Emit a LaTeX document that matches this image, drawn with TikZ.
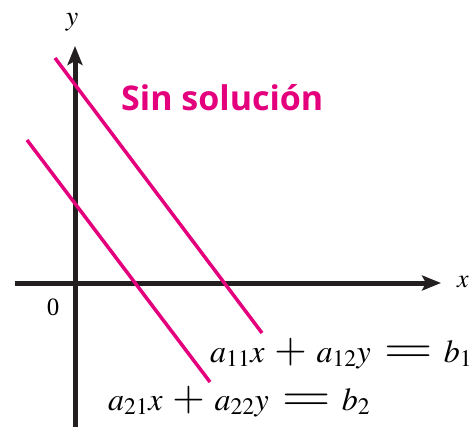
\documentclass[tikz,border=0pt]{standalone}
\usepackage{mathptmx}
\usepackage{fontspec}
\setmainfont{Liberation Serif}
\newfontfamily\labelsans{Open Sans}
\usetikzlibrary{arrows.meta}
\definecolor{rubine}{RGB}{228,0,124}
\definecolor{axisblack}{RGB}{35,31,32}
\newcommand{\bigplus}{\mskip3mu\mathbin{\scalebox{1.3}{$+$}}\mskip3mu}
\newcommand{\bigeq}{\mskip3mu\mathrel{\scalebox{2.0}[1.4]{$=$}}\mskip2mu}
\tikzset{
  axisline/.style={draw=axisblack, line width=5pt, -{Stealth[length=19pt,width=15pt,inset=4pt]}},
  solline/.style={draw=rubine, line width=3.5pt},
  eqtext/.style={inner sep=0pt, anchor=base west, font=\fontsize{32}{34}\selectfont},
  axlabel/.style={inner sep=0pt, font=\fontsize{28}{30}\selectfont},
  titletext/.style={inner sep=0pt, anchor=base west, text=rubine, font=\labelsans\bfseries\fontsize{34}{36}\selectfont}
}
\begin{document}
\begin{tikzpicture}[x=1pt,y=-1pt]
\useasboundingbox (0,0) rectangle (474,426);
% axes
\coordinate (xl) at (15,283);
\coordinate (xr) at (441,283);
\coordinate (yb) at (75,428);
\coordinate (yt) at (75,46);
\draw[axisline] (xl) -- (xr);
\draw[axisline] (yb) -- (yt);
% lines
\coordinate (l1s) at (55,58);
\coordinate (l1e) at (262,333);
\coordinate (l2s) at (27,140);
\coordinate (l2e) at (210,382);
\draw[solline] (l1s) -- (l1e);
\draw[solline] (l2s) -- (l2e);
% labels
\node[axlabel] (ylab) at (72,22) {$y$};
\node[axlabel, font=\fontsize{26}{28}\selectfont] (xlab) at (463,282) {$x$};
\node[axlabel, font=\fontsize{25}{27}\selectfont] (zero) at (53,307) {0};
\node[titletext] (title) at (121,110) {Sin solución};
\node[eqtext] (eq1) at (210,362) {$a_{11}x \bigplus a_{12}y \bigeq b_1$};
\node[eqtext] (eq2) at (108,410) {$a_{21}x \bigplus a_{22}y \bigeq b_2$};
\end{tikzpicture}
\end{document}
